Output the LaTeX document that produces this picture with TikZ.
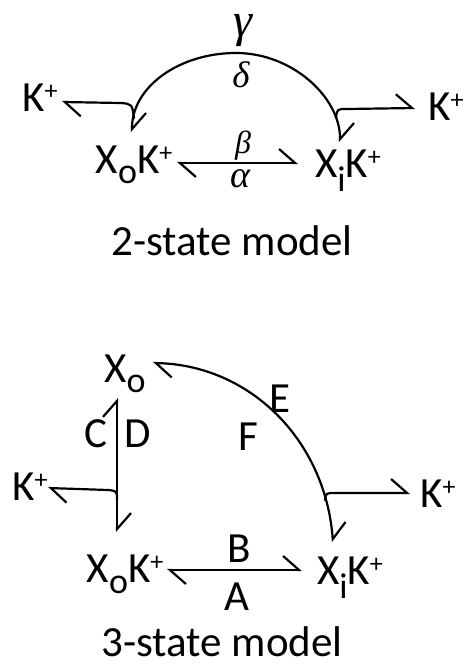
\documentclass[tikz,border=0pt]{standalone}
\usepackage{fontspec}
\setmainfont{Carlito}
\newfontfamily\grkfont{Liberation Serif}
\usetikzlibrary{arrows.meta}
\newcommand{\lblfont}{\fontsize{43}{48}\selectfont}
\newcommand{\plusup}{\raisebox{12pt}{\fontsize{26}{26}\selectfont +}}
\newcommand{\lowr}[2]{\raisebox{-#1}{\fontsize{36}{36}\selectfont #2}}
\begin{document}
\begin{tikzpicture}[x=1pt,y=-1pt,
  txt/.style={font=\lblfont, inner sep=0pt, anchor=base},
  greek/.style={inner sep=0pt, anchor=base},
  ln/.style={line width=2.2pt, line cap=round, line join=round},
  hp/.style={ln, -{Straight Barb[harpoon, length=16pt, width=28pt]}},
  dhp/.style={ln, {Straight Barb[harpoon, length=16pt, width=28pt]}-{Straight Barb[harpoon, length=16pt, width=28pt]}}]
\useasboundingbox (0,0) rectangle (467,666);

% ---- 2-state model ----
\node[greek, font=\grkfont\itshape\fontsize{48}{48}\selectfont] (gam) at (243,37) {γ};
\node[greek, font=\grkfont\itshape\fontsize{37}{37}\selectfont] (del) at (241,88) {δ};
\node[txt] (K1) at (40,112) {K\plusup};
\node[txt] (K2) at (446,121) {K\plusup};
\node[txt] (XoK1) at (134,173) {X\lowr{10pt}{o}K\plusup};
\node[txt] (XiK1) at (348,177) {X\lowr{14pt}{i}K\plusup};
\node[greek, font=\grkfont\itshape\fontsize{32}{32}\selectfont] (bet) at (243,153) {β};
\node[greek, font=\grkfont\itshape\fontsize{38}{38}\selectfont] (alp) at (240,187) {α};
\node[txt] (t2) at (232,255) {2-state model};

\coordinate (a1) at (132,132);
\coordinate (a2) at (340,142);
\draw[dhp] (a1) .. controls (132,87) and (179,53) .. (236,53) .. controls (293,53) and (340,98) .. (a2);
\coordinate (b1) at (134,118);
\coordinate (k1tip) at (62,102);
\draw[hp] (b1) .. controls (132,104) .. (121,103) -- (k1tip);
\coordinate (b2) at (336,118);
\coordinate (k2tip) at (415,108);
\draw[hp] (b2) .. controls (337,109) .. (347,109) -- (k2tip);
\coordinate (r1) at (177,163);
\coordinate (r2) at (298,163);
\draw[dhp] (r1) -- (r2);

% ---- 3-state model ----
\node[txt] (Xo) at (125,382) {X\lowr{10pt}{o}};
\node[txt] (K3) at (30,500) {K\plusup};
\node[txt] (K4) at (438,507) {K\plusup};
\node[txt] (C) at (96,447) {C};
\node[txt] (D) at (138,447) {D};
\node[txt] (E) at (280,412) {E};
\node[txt] (F) at (248,450) {F};
\node[txt] (XoK2) at (125,582) {X\lowr{11pt}{o}K\plusup};
\node[txt] (XiK2) at (350,584) {X\lowr{14pt}{i}K\plusup};
\node[txt] (B) at (239,562) {B};
\node[txt] (A) at (237,610) {A};
\node[txt] (t3) at (222,656) {3-state model};

\coordinate (v1) at (117,398);
\coordinate (v2) at (117,532);
\draw[dhp] (v1) -- (v2);
\coordinate (v3) at (117,500);
\coordinate (k3tip) at (48,488);
\draw[hp] (v3) .. controls (117,491) .. (108,490) -- (k3tip);
\coordinate (c1) at (153,363);
\coordinate (c2) at (333,542);
\draw[dhp] (c1) .. controls (250,365) and (325,440) .. (c2);
\coordinate (c3) at (325,500);
\coordinate (k4tip) at (410,493);
\draw[hp] (c3) .. controls (326,493) .. (335,493) -- (k4tip);
\coordinate (s1) at (167,570);
\coordinate (s2) at (302,570);
\draw[dhp] (s1) -- (s2);
\end{tikzpicture}
\end{document}
